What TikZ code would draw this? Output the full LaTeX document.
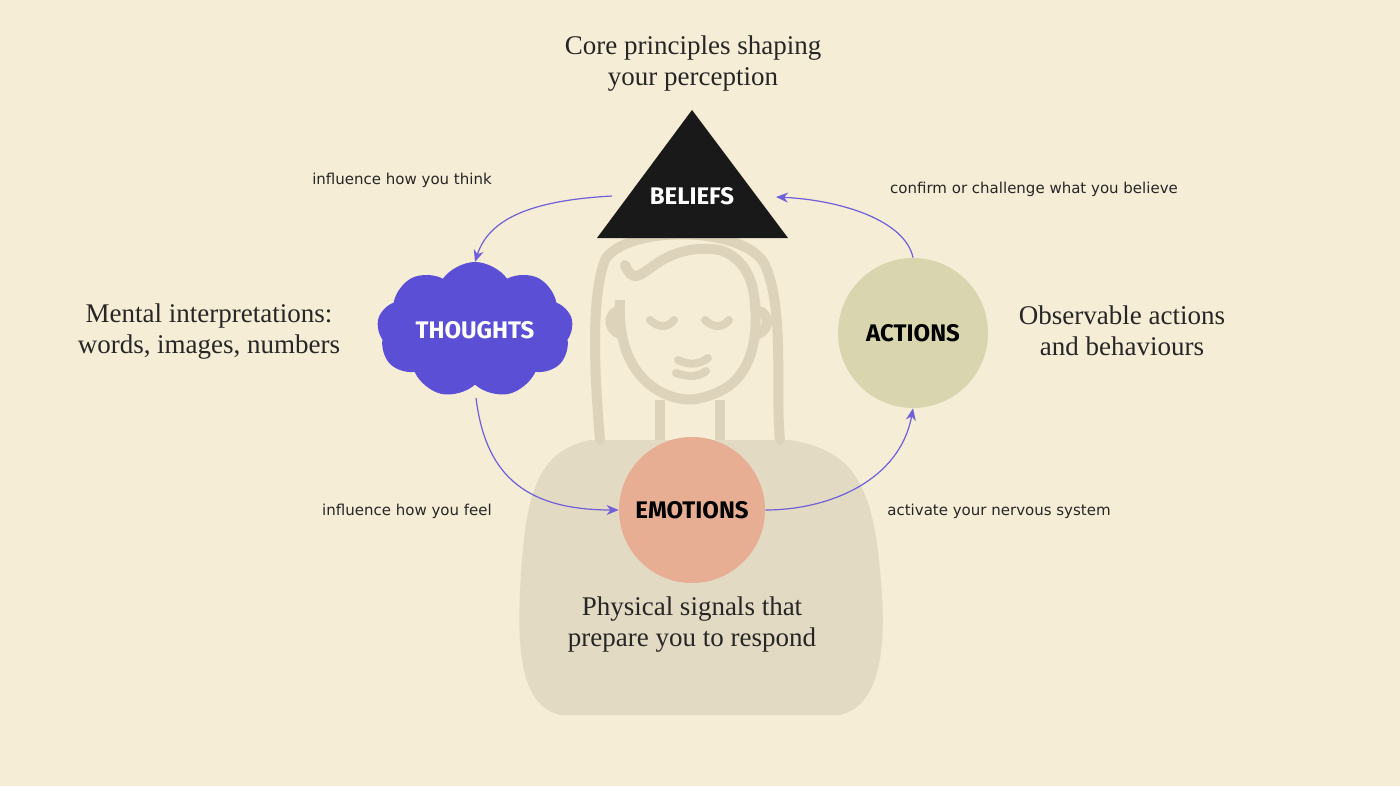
\documentclass[tikz,border=0pt]{standalone}
\usepackage{fontspec}
\setmainfont{Liberation Serif}
\newfontfamily\labfont{DejaVu Sans}
\newfontfamily\keyfont{Fira Sans}
\usetikzlibrary{arrows.meta,shapes.symbols}
\definecolor{bg}{HTML}{F5EDD6}
\definecolor{fig}{HTML}{E3DAC3}
\definecolor{figl}{HTML}{DDD3BB}
\definecolor{pur}{HTML}{5B4FD6}
\definecolor{arr}{HTML}{6F5FD8}
\definecolor{act}{HTML}{D9D5AF}
\definecolor{emo}{HTML}{E8AE94}
\begin{document}
\begin{tikzpicture}[x=0.5pt,y=-0.5pt,
 head/.style={font=\fontsize{13.5}{15.5}\selectfont, align=center, text=black!85},
 lbl/.style={font=\labfont\fontsize{7.5}{9}\selectfont, text=black!85},
 key/.style={font=\keyfont\bfseries\fontsize{12}{14}\selectfont},
 con/.style={draw=arr, line width=0.6pt, -{Stealth[length=6pt,width=5pt]}}]
\fill[bg] (0,0) rectangle (1400,786);
\useasboundingbox (0,0) rectangle (1400,786);
% person
\fill[fig] (590,440) .. controls (545,450) and (528,480) .. (522,560)
  .. controls (515,650) and (520,705) .. (560,715)
  -- (840,715) .. controls (880,705) and (888,650) .. (880,570)
  .. controls (872,480) and (850,450) .. (790,440) -- cycle;
\draw[figl, line width=5pt, line cap=round] (600,440) .. controls (595,380) and (590,300) .. (605,260)
  .. controls (625,225) and (745,225) .. (765,265) .. controls (785,310) and (775,390) .. (780,440);
\draw[figl, line width=5pt, line cap=round] (625,265) .. controls (640,300) and (650,240) .. (720,250)
  .. controls (750,260) and (755,290) .. (755,310);
\draw[figl, line width=5pt] (620,300) .. controls (615,390) and (680,405) .. (700,398) .. controls (740,390) and (760,360) .. (755,300);
\draw[figl, line width=5pt] (622,310) .. controls (604,312) and (608,335) .. (626,335);
\draw[figl, line width=5pt] (755,310) .. controls (773,312) and (770,335) .. (752,335);
\draw[figl, line width=4pt, line cap=round] (650,320) .. controls (658,328) and (668,328) .. (674,320);
\draw[figl, line width=4pt, line cap=round] (705,320) .. controls (713,328) and (723,328) .. (729,320);
\draw[figl, line width=4pt, line cap=round] (678,360) .. controls (690,366) and (700,364) .. (708,358);
\draw[figl, line width=4pt, line cap=round] (676,373) .. controls (690,378) and (700,376) .. (706,371);
\draw[figl, line width=5pt] (660,400) -- (660,440) (720,400) -- (720,440);
% beliefs
\fill[black!90] (692,110) -- (788,238) -- (597,238) -- cycle;
\node[key, text=white] (bel) at (692,196) {BELIEFS};
\coordinate (belL) at (612,196); \coordinate (belR) at (776,197);
% thoughts
\node[cloud, cloud puffs=9, cloud puff arc=110, aspect=1.5, fill=pur, inner sep=0pt,
 minimum width=98pt, minimum height=68pt] (tho) at (475,330) {};
\node[key, text=white] at (475,330) {THOUGHTS};
\coordinate (thoT) at (475,262); \coordinate (thoB) at (476,398);
% actions
\node[circle, fill=act, minimum size=75pt, inner sep=0pt, key] (actn) at (913,333) {ACTIONS};
% emotions
\node[circle, fill=emo, minimum size=73pt, inner sep=0pt, key] (emo) at (692,510) {EMOTIONS};
% arrows
\draw[con] (belL) .. controls (540,200) and (490,215) .. (thoT);
\draw[con] (actn.north) .. controls (905,220) and (840,200) .. (belR);
\draw[con] (thoB) .. controls (485,470) and (520,510) .. (emo.west);
\draw[con] (emo.east) .. controls (830,510) and (900,480) .. (actn.south);
% texts
\node[head] (t1) at (693,64) {Core principles shaping\\your perception};
\node[head] (t2) at (209,332) {Mental interpretations:\\words, images, numbers};
\node[head] (t3) at (1122,331) {Observable actions\\and behaviours};
\node[head] (t4) at (692,625) {Physical signals that\\prepare you to respond};
\node[lbl] (l1) at (402,180) {influence how you think};
\node[lbl] (l2) at (1034,189) {confirm or challenge what you believe};
\node[lbl] (l3) at (407,511) {influence how you feel};
\node[lbl] (l4) at (999,511) {activate your nervous system};
\end{tikzpicture}
\end{document}
